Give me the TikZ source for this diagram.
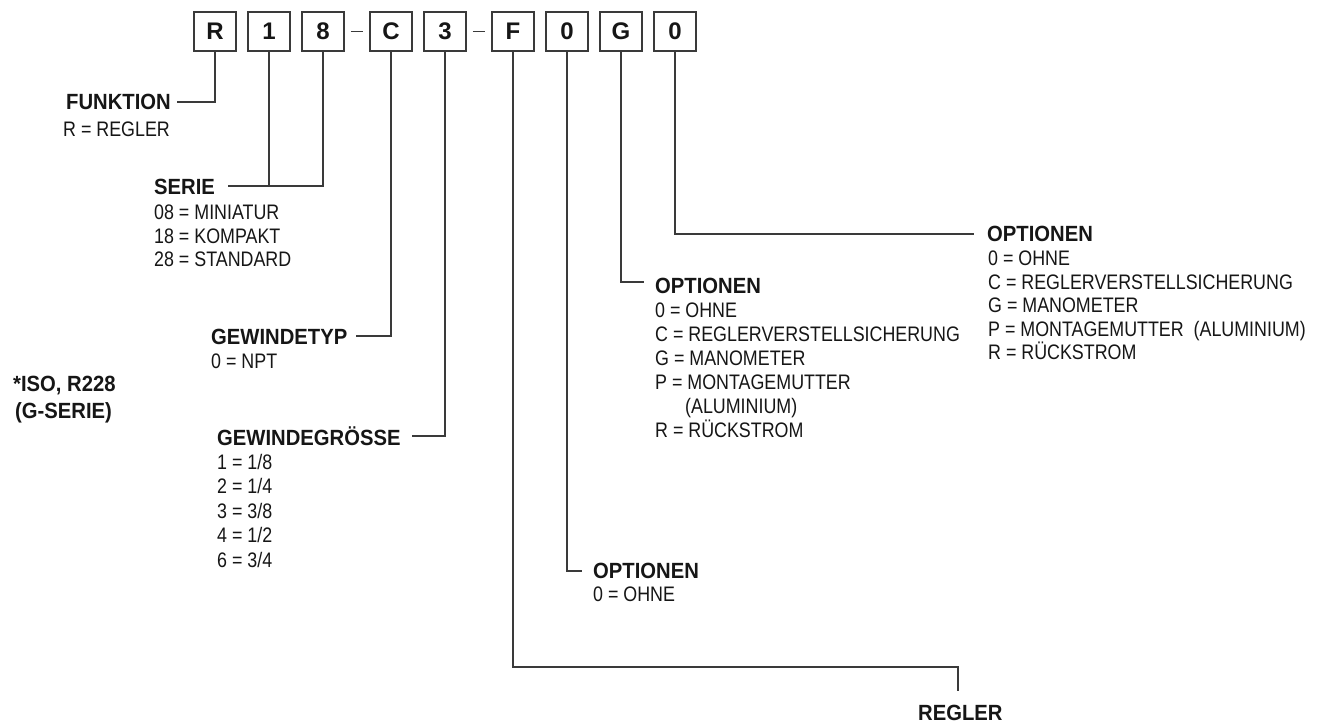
\documentclass[tikz,border=0pt]{standalone}
\usepackage{fontspec}
\newfontfamily\rfam{Liberation Sans}[FakeStretch=0.85]
\newfontfamily\bfam{Liberation Sans}[FakeStretch=0.92]
\newfontfamily\xfam{Liberation Sans}
\definecolor{ink}{HTML}{161616}
\definecolor{wirec}{HTML}{3A3A3A}
\tikzset{
  hd/.style={font=\bfam\bfseries\fontsize{22}{24}\selectfont, anchor=base west, inner sep=0pt, text=ink},
  tx/.style={font=\rfam\fontsize{21}{24}\selectfont, anchor=base west, inner sep=0pt, text=ink},
  cbox/.style={draw=wirec, line width=1.7pt, minimum width=42pt, minimum height=39pt, inner sep=0pt, text=ink, font=\xfam\bfseries\fontsize{24}{26}\selectfont},
  wire/.style={draw=wirec, line width=1.8pt},
}
\begin{document}
\begin{tikzpicture}[x=1pt,y=-1pt]
\useasboundingbox[fill=white] (0,0) rectangle (1331,722);
% code boxes
\node[cbox] (bR) at (215,31.5) {R};
\node[cbox] (b1) at (269,31.5) {1};
\node[cbox] (b8) at (323,31.5) {8};
\node[cbox] (bC) at (391,31.5) {C};
\node[cbox] (b3) at (445,31.5) {3};
\node[cbox] (bF) at (513,31.5) {F};
\node[cbox] (b0a) at (567,31.5) {0};
\node[cbox] (bG) at (621,31.5) {G};
\node[cbox] (b0b) at (675,31.5) {0};
\draw[wire] ([xshift=6pt]b8.east) -- ([xshift=-6pt]bC.west);
\draw[wire] ([xshift=6pt]b3.east) -- ([xshift=-6pt]bF.west);
% connector ends
\coordinate (cF) at (177,102);
\coordinate (cS) at (228,186);
\coordinate (cT) at (356,336);
\coordinate (cG) at (412,436);
\coordinate (cRk) at (958,667);
\coordinate (cR) at (958,691);
\coordinate (cO1) at (582,571);
\coordinate (cO2) at (644,282);
\coordinate (cO3) at (974,234);
% connectors
\draw[wire] (bR.south) |- (cF);
\draw[wire] (b1.south) -- (b1.south |- cS);
\draw[wire] (b8.south) |- (cS);
\draw[wire] (bC.south) |- (cT);
\draw[wire] (b3.south) |- (cG);
\draw[wire] (bF.south) |- (cRk) -- (cR);
\draw[wire] (b0a.south) |- (cO1);
\draw[wire] (bG.south) |- (cO2);
\draw[wire] (b0b.south) |- (cO3);
% FUNKTION
\node[hd] (hF) at (66,109.5) {FUNKTION};
\node[tx] (tF1) at (63,137) {R = REGLER};
% SERIE
\node[hd] (hS) at (154,195) {SERIE};
\node[tx] (tS1) at (154,220) {08 = MINIATUR};
\node[tx] (tS2) at (154,243.5) {18 = KOMPAKT};
\node[tx] (tS3) at (154,267) {28 = STANDARD};
% GEWINDETYP
\node[hd] (hT) at (211,344) {GEWINDETYP};
\node[tx] (tT1) at (211,368) {0 = NPT};
% ISO
\node[hd] (hI1) at (13,391) {*ISO, R228};
\node[hd] (hI2) at (15,418) {(G-SERIE)};
% GEWINDEGROESSE
\node[hd] (hG) at (217,445) {GEWINDEGRÖSSE};
\node[tx] (tG1) at (217,469) {1 = 1/8};
\node[tx] (tG2) at (217,493.5) {2 = 1/4};
\node[tx] (tG3) at (217,518) {3 = 3/8};
\node[tx] (tG4) at (217,542.5) {4 = 1/2};
\node[tx] (tG5) at (217,567) {6 = 3/4};
% OPTIONEN (G)
\node[hd] (hO2) at (655,293) {OPTIONEN};
\node[tx] (tO21) at (655,317) {0 = OHNE};
\node[tx] (tO22) at (655,341) {C = REGLERVERSTELLSICHERUNG};
\node[tx] (tO23) at (655,365) {G = MANOMETER};
\node[tx] (tO24) at (655,389) {P = MONTAGEMUTTER};
\node[tx] (tO25) at (685,413) {(ALUMINIUM)};
\node[tx] (tO26) at (655,437) {R = RÜCKSTROM};
% OPTIONEN (last 0)
\node[hd] (hO3) at (987,242) {OPTIONEN};
\node[tx] (tO31) at (988,265.5) {0 = OHNE};
\node[tx] (tO32) at (988,289) {C = REGLERVERSTELLSICHERUNG};
\node[tx] (tO33) at (988,312.5) {G = MANOMETER};
\node[tx] (tO34) at (988,336) {P = MONTAGEMUTTER\ \ (ALUMINIUM)};
\node[tx] (tO35) at (988,359.5) {R = RÜCKSTROM};
% OPTIONEN (first 0)
\node[hd] (hO1) at (593,578.5) {OPTIONEN};
\node[tx] (tO11) at (593,601.5) {0 = OHNE};
% REGLER
\node[hd] (hR) at (918,720) {REGLER};
\end{tikzpicture}
\end{document}
